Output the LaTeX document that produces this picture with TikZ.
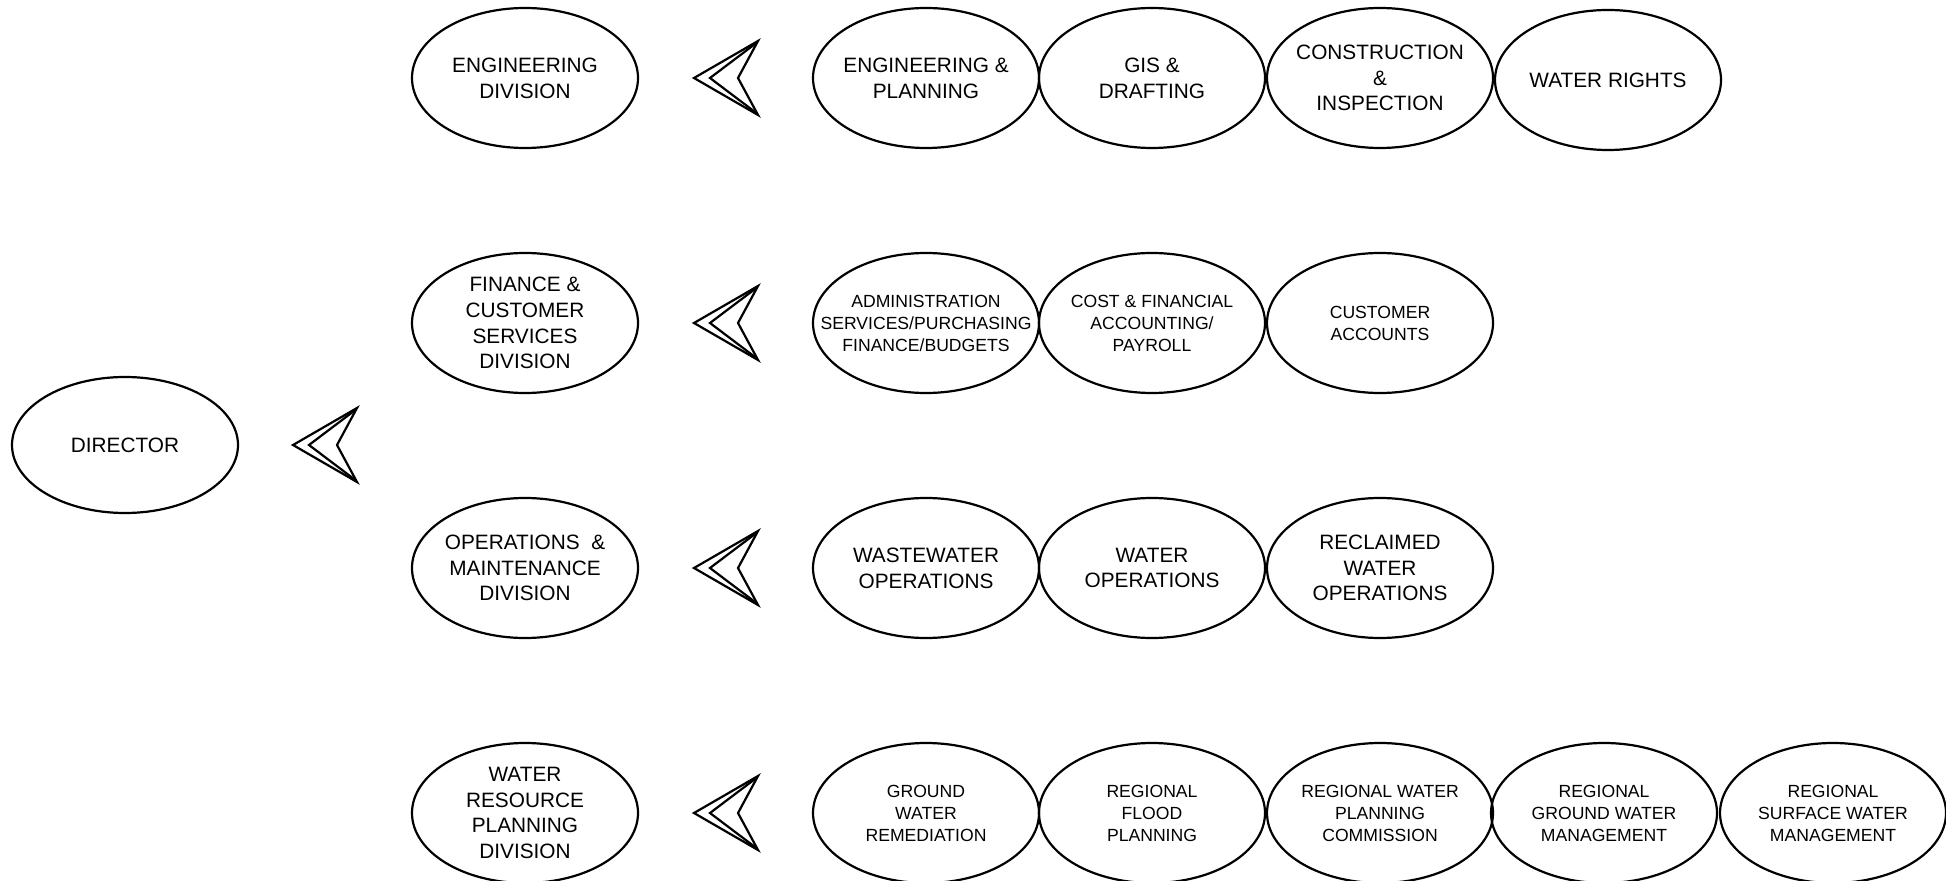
\documentclass[tikz,border=0pt]{standalone}
\usepackage{fontspec}
\setmainfont{Liberation Sans}
\usetikzlibrary{shapes.geometric}
\tikzset{
  oval/.style={ellipse, draw, line width=1.1pt, minimum width=113pt, minimum height=70pt, inner sep=0pt},
  dirov/.style={oval, minimum height=68pt},
  big/.style={font=\fontsize{10.4}{12.9}\selectfont, align=center, inner sep=0pt},
  small/.style={font=\fontsize{8.8}{11}\selectfont, align=center, inner sep=0pt},
  chev/.style={line width=1.1pt, line join=miter},
  chevpic/.pic={
    \draw[chev] (0,0) -- (64,-37) -- (44,0) -- (64,37) -- cycle;
    \draw[chev] (61,-34) -- (16,0) -- (61,34);
  }
}
\begin{document}
\begin{tikzpicture}[x=0.5pt, y=-0.5pt]
\useasboundingbox (0,0) rectangle (1946,881);

% director
\node[dirov, label={[big]center:DIRECTOR}] (dir) at (125,445) {};
\coordinate (a0) at (293,445);
\pic at (a0) {chevpic};

% divisions
\node[oval, label={[big]center:ENGINEERING\\DIVISION}] (d1) at (525,78) {};
\node[oval, label={[big]center:FINANCE \&\\CUSTOMER\\SERVICES\\DIVISION}] (d2) at (525,323) {};
\node[oval, label={[big]center:OPERATIONS \ \&\\MAINTENANCE\\DIVISION}] (d3) at (525,568) {};
\node[oval, label={[big]center:WATER\\RESOURCE\\PLANNING\\DIVISION}] (d4) at (525,813) {};

\coordinate (a1) at (694,78);
\coordinate (a2) at (694,323);
\coordinate (a3) at (694,568);
\coordinate (a4) at (694,813);
\pic at (a1) {chevpic};
\pic at (a2) {chevpic};
\pic at (a3) {chevpic};
\pic at (a4) {chevpic};

% row 1
\node[oval, label={[big]center:ENGINEERING \&\\PLANNING}] (s11) at (926,78) {};
\node[oval, label={[big]center:GIS \&\\DRAFTING}] (s12) at (1152,78) {};
\node[oval, label={[big]center:CONSTRUCTION\\\&\\INSPECTION}] (s13) at (1380,78) {};
\node[oval, label={[big]center:WATER RIGHTS}] (s14) at (1608,80) {};

% row 2
\node[oval, label={[small]center:ADMINISTRATION\\SERVICES/PURCHASING\\FINANCE/BUDGETS}] (s21) at (926,323) {};
\node[oval, label={[small]center:COST \& FINANCIAL\\ACCOUNTING/\\PAYROLL}] (s22) at (1152,323) {};
\node[oval, label={[small]center:CUSTOMER\\ACCOUNTS}] (s23) at (1380,323) {};

% row 3
\node[oval, label={[big]center:WASTEWATER\\OPERATIONS}] (s31) at (926,568) {};
\node[oval, label={[big]center:WATER\\OPERATIONS}] (s32) at (1152,568) {};
\node[oval, label={[big]center:RECLAIMED\\WATER\\OPERATIONS}] (s33) at (1380,568) {};

% row 4
\node[oval, label={[small]center:GROUND\\WATER\\REMEDIATION}] (s41) at (926,813) {};
\node[oval, label={[small]center:REGIONAL\\FLOOD\\PLANNING}] (s42) at (1152,813) {};
\node[oval, label={[small]center:REGIONAL WATER\\PLANNING\\COMMISSION}] (s43) at (1380,813) {};
\node[oval, label={[small]center:REGIONAL\\GROUND WATER\\MANAGEMENT}] (s44) at (1604,813) {};
\node[oval, label={[small]center:REGIONAL\\SURFACE WATER\\MANAGEMENT}] (s45) at (1833,813) {};
\end{tikzpicture}
\end{document}
